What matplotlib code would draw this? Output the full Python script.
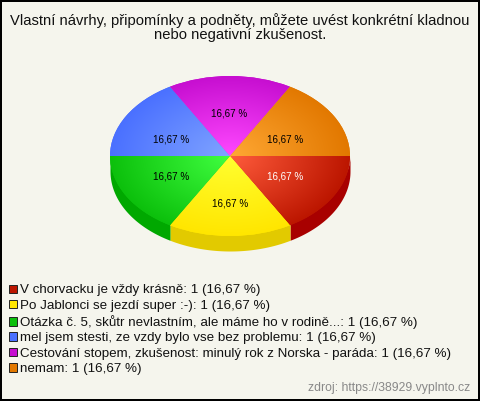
import numpy as np
import matplotlib
matplotlib.use('Agg')
import matplotlib.pyplot as plt
from matplotlib.colors import LinearSegmentedColormap
from matplotlib.patches import Patch

title = 'Vlastní návrhy, připomínky a podněty, můžete uvést konkrétní kladnou\nnebo negativní zkušenost.'
labels = ['V chorvacku je vždy krásně', 'Po Jablonci se jezdí super :-)',
          'Otázka č. 5, skůtr nevlastním, ale máme ho v rodině...',
          'mel jsem stesti, ze vzdy bylo vse bez problemu',
          'Cestování stopem, zkušenost: minulý rok z Norska - paráda', 'nemam']
values = [1, 1, 1, 1, 1, 1]
source = 'zdroj: https://38929.vyplnto.cz'

inner_colors = ['#ff5c3c', '#ffff30', '#40ff40', '#80a4ff', '#ff48ff', '#ffa834']
rim_colors = ['#bc1600', '#ffe600', '#0cc00c', '#4a70ff', '#c60ed0', '#e27800']
side_colors = ['#a80000', '#e2ca00', '#00a800', '#2a50d0', '#a000a8', '#c06000']
text_colors = ['white', 'black', 'black', 'black', 'black', 'black']

BG = '#f5f5ed'
DEPTH = 15 / 80
# small nudges of the percent labels, px
label_nudge = [(0, -1), (0, 5), (-4, -1), (-4, 5), (-1, 0), (0, 5)]

plt.rcParams['font.family'] = ['Liberation Sans', 'DejaVu Sans']


def fmt_pct(p):
    return '{0:.2f} %'.format(p).replace('.', ',')


if __name__ == '__main__':
    W, H = 480, 401
    fig = plt.figure(figsize=(W / 100, H / 100), dpi=100, facecolor=BG)
    fig.patch.set_edgecolor('black')
    fig.patch.set_linewidth(1.5)

    # pie is a circle squashed by the axes, 120x80 px
    ax = fig.add_axes([(230 - 126) / W, 1 - 256 / H, 252 / W, 184 / H])
    wedges, texts, autotexts = ax.pie(values, colors=rim_colors, startangle=0, counterclock=False,
                                      radius=1, autopct=fmt_pct, pctdistance=0.53,
                                      textprops={'fontsize': 7.1})
    ax.set_aspect('auto')

    # side of the pie, only where it faces the viewer
    total = sum(values)
    edges = -360 * np.cumsum([0] + values) / total
    for i in range(len(values)):
        a0, a1 = sorted((edges[i], edges[i + 1]))
        if a1 <= -180 or a0 >= 0:
            continue
        t = np.radians(np.linspace(a0, a1, 80))
        # run up under the top so no seam shows at the rim
        ax.fill_between(np.cos(t), np.sin(t) * 0.8, np.sin(t) - DEPTH, color=side_colors[i], lw=0, zorder=0.5)

    # radial shading of the top
    xx, yy = np.meshgrid(np.linspace(-1, 1, 400), np.linspace(1, -1, 400))
    rr = np.hypot(xx, yy)
    for i, w in enumerate(wedges):
        cmap = LinearSegmentedColormap.from_list('c', [inner_colors[i], rim_colors[i]])
        im = ax.imshow(rr, cmap=cmap, vmin=0, vmax=1, extent=(-1, 1, -1, 1), aspect='auto', zorder=2)
        im.set_clip_path(w)
    for i, t in enumerate(autotexts):
        t.set_color(text_colors[i])
        t.set_zorder(3)
        x, y = t.get_position()
        t.set_position((x + label_nudge[i][0] / 120, y - label_nudge[i][1] / 80))

    ax.set_xlim(-1.05, 1.05)
    ax.set_ylim(-1.25, 1.05)
    ax.axis('off')

    fig.text(240 / W, 1 - 27.5 / H, title, ha='center', va='center', fontsize=10.65, color='#111111',
             linespacing=1.08)

    handles = [Patch(facecolor=c, edgecolor='#222222', linewidth=0.7) for c in rim_colors]
    legend_labels = ['{0}: {1} ({2})'.format(l, v, fmt_pct(100 * v / total)) for l, v in zip(labels, values)]
    fig.legend(handles, legend_labels, loc='upper left', bbox_to_anchor=(9 / W, 1 - 284.5 / H),
               borderaxespad=0, borderpad=0, frameon=False, fontsize=9.6, labelspacing=0.25,
               handlelength=0.6, handleheight=0.6, handletextpad=0.26, labelcolor='#111111')

    fig.text(470 / W, 1 - 388 / H, source, ha='right', va='center', fontsize=8.8, color='#888888')

    fig.savefig('out.png', dpi=100, facecolor=BG, edgecolor='black')
